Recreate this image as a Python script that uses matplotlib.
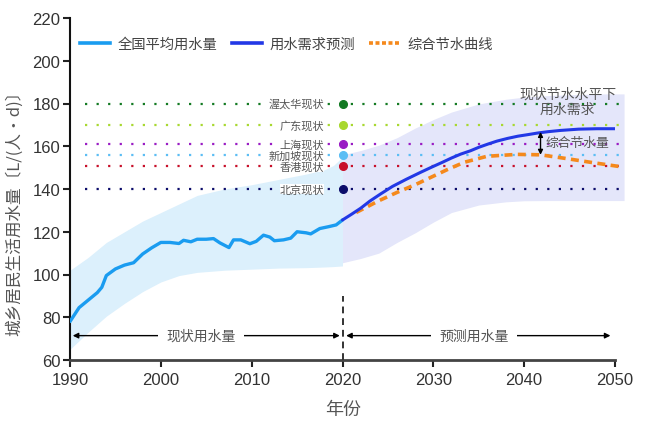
import matplotlib
matplotlib.use("Agg")
import matplotlib.pyplot as plt
from matplotlib.lines import Line2D
import numpy as np

CJK = ['Noto Sans CJK SC', 'DejaVu Sans']
NUM = ['Liberation Sans Narrow', 'Liberation Sans', 'DejaVu Sans']

# ---------------- data ----------------
hist_years = [1990, 1991, 1992, 1993, 1993.5, 1994, 1995, 1996, 1997, 1998, 1999, 2000,
              2001, 2002, 2002.5, 2003.3, 2004, 2005, 2005.8, 2006.5, 2007.5, 2008,
              2008.8, 2009.8, 2010.5, 2011.3, 2012, 2012.5, 2013.5, 2014.3, 2015,
              2016, 2016.5, 2017.5, 2018.5, 2019.3, 2020]
hist_vals = [78, 84.5, 88, 91.5, 94, 99.5, 102.6, 104.4, 105.5, 109.6, 112.5, 115,
             115, 114.5, 116, 115.3, 116.5, 116.5, 116.8, 114.8, 112.6, 116.2,
             116.2, 114.4, 115.5, 118.4, 117.5, 115.8, 116.2, 117, 120,
             119.5, 119, 121.5, 122.4, 123.2, 125.5]

hist_band_years = [1990, 1992, 1994, 1996, 1998, 2000, 2002, 2004, 2007, 2010,
                   2013, 2016, 2018, 2019, 2020]
hist_band_upper = [102, 108, 115, 120, 125, 129, 133, 137, 140, 142,
                   144.5, 147, 149, 151, 155]
hist_band_lower = [65, 73, 80.5, 86.5, 92, 96.5, 99.5, 101, 102, 102.5,
                   103, 103.2, 103.5, 103.7, 104]

fc_years = [2020, 2021, 2022, 2023, 2024.2, 2025.5, 2027, 2028.5, 2029.7, 2031, 2032,
            2033, 2034.1, 2035, 2036, 2037, 2038.2, 2039.3, 2040.5, 2041.5,
            2042.6, 2044, 2046, 2048, 2050]
fc_vals = [125.5, 128.2, 131, 134.3, 137.7, 141.2, 144.5, 147.6, 150, 152.5, 154.5,
           156.3, 157.9, 159.5, 161, 162.4, 163.7, 164.7, 165.5, 166.2,
           166.8, 167.4, 168, 168.2, 168.2]

save_years = [2021.5, 2024, 2026, 2028, 2029.7, 2031.5, 2033.4, 2035.9, 2039.2,
              2041.8, 2044.4, 2047.3, 2050.5]
save_vals = [129, 134.5, 138.4, 142, 145.4, 149, 152.5, 155.3, 156.2,
             156, 154.4, 152.5, 150.5]

fc_band_years = [2020, 2022, 2024, 2026, 2028, 2030, 2032, 2035, 2038, 2040,
                 2043, 2046, 2049, 2051]
fc_band_upper = [156, 158, 160.5, 164, 168.5, 172.5, 176, 179.8, 182, 183,
                 183.8, 184.2, 184.5, 184.5]
fc_band_lower = [105.5, 107.5, 110, 115, 119.5, 124.5, 129, 132.5, 134, 134.5,
                 134.6, 134.6, 134.6, 134.6]

ref_names = ['渥太华现状', '广东现状', '上海现状', '新加坡现状', '香港现状', '北京现状']
ref_values = [180, 170, 161, 155.8, 150.6, 140]
ref_colors = ['#137a23', '#a8d830', '#9a1cc4', '#5bbdf4', '#c8102a', '#0c0c6a']

legend_labels = ['全国平均用水量', '用水需求预测', '综合节水曲线']
x_ticks = [1990, 2000, 2010, 2020, 2030, 2040, 2050]
y_ticks = [60, 80, 100, 120, 140, 160, 180, 200, 220]

# ---------------- figure ----------------
fig = plt.figure(figsize=(6.6, 4.27), dpi=100)
ax = fig.add_axes([70/660, 66/427, 545/660, 342/427])

c_hist = '#1a9cf0'
c_fc = '#2238e6'
c_save = '#f5891c'

ax.fill_between(hist_band_years, hist_band_lower, hist_band_upper,
                color='#dcf0fc', lw=0, zorder=1)
ax.fill_between(fc_band_years, fc_band_lower, fc_band_upper,
                color='#e4e6fa', lw=0, zorder=1.1, clip_on=False)

# reference lines
for name, v, c in zip(ref_names, ref_values, ref_colors):
    ax.plot([1991.7, 2050.8], [v, v], color=c, lw=1.6,
            ls=(0, (1, 4.2)), zorder=2, clip_on=False)
    ax.plot([2020], [v], 'o', color=c, ms=5.5, zorder=6, clip_on=False)
    ax.text(2018.0, v, name, ha='right', va='center', fontsize=8.0,
            color='#555555', family=CJK, zorder=3,
            bbox=dict(facecolor='white', edgecolor='none', pad=0.0))

ax.plot(hist_years, hist_vals, color=c_hist, lw=2.4, zorder=5,
        solid_capstyle='round', solid_joinstyle='round')
ax.plot(save_years, save_vals, color=c_save, lw=2.6, ls=(0, (2.2, 1.5)),
        zorder=4, clip_on=False)
ax.plot(fc_years, fc_vals, color=c_fc, lw=2.2, zorder=5,
        solid_capstyle='round', solid_joinstyle='round')

# saving amount arrow
ax.annotate('', xy=(2041.8, 166.7), xytext=(2041.8, 156.0),
            arrowprops=dict(arrowstyle='<|-|>', color='black', lw=1.0,
                            mutation_scale=7, shrinkA=0, shrinkB=0), zorder=7)
ax.text(2042.4, 161.8, '综合节水量', ha='left', va='center', fontsize=9.2,
        color='#555555', family=CJK, zorder=7)
ax.text(2044.8, 181, '现状节水水平下\n用水需求', ha='center', va='center',
        fontsize=10, color='#555555', family=CJK, linespacing=1.15, zorder=7)

# bottom range arrows
ya = 71.4
ax.annotate('', xy=(1990.3, ya), xytext=(2019.7, ya),
            arrowprops=dict(arrowstyle='<|-|>', color='black', lw=1.0,
                            mutation_scale=8, shrinkA=0, shrinkB=0))
ax.text(2004.4, ya, '现状用水量', ha='center', va='center', fontsize=10,
        color='#555555', family=CJK,
        bbox=dict(facecolor='white', edgecolor='none', pad=6))
ax.annotate('', xy=(2020.4, ya), xytext=(2049.5, ya),
            arrowprops=dict(arrowstyle='<|-|>', color='black', lw=1.0,
                            mutation_scale=8, shrinkA=0, shrinkB=0))
ax.text(2034.5, ya, '预测用水量', ha='center', va='center', fontsize=10,
        color='#555555', family=CJK,
        bbox=dict(facecolor='white', edgecolor='none', pad=6))
ax.plot([2020, 2020], [60, 90], color='#333333', lw=1.4, ls=(0, (3.5, 2.5)),
        zorder=3)

# axes styling
ax.set_xlim(1990, 2050)
ax.set_ylim(60, 220)
ax.set_xticks(x_ticks)
ax.set_yticks(y_ticks)
for s in ['top', 'right']:
    ax.spines[s].set_visible(False)
ax.spines['left'].set_linewidth(1.5)
ax.spines['left'].set_color('#111111')
ax.spines['bottom'].set_linewidth(2.0)
ax.spines['bottom'].set_color('#444444')
ax.tick_params(axis='both', direction='out', length=5, width=1.5,
               colors='#222222', labelsize=12, labelcolor='#333333')
ax.tick_params(axis='x', pad=4)
ax.tick_params(axis='y', pad=2)
for lab in ax.get_xticklabels() + ax.get_yticklabels():
    lab.set_family(NUM)

fig.text(0.022, 0.51, '城乡居民生活用水量〔L/(人•d)〕', rotation=90,
         ha='center', va='center', fontsize=12, color='#555555', family=CJK)
fig.text(343/660, 1 - 410/427, '年份', ha='center', va='center',
         fontsize=13, color='#555555', family=CJK)

handles = [Line2D([], [], color=c_hist, lw=2.6),
           Line2D([], [], color=c_fc, lw=2.6),
           Line2D([], [], color=c_save, lw=2.6, ls=(0, (1.1, 0.7)))]
leg = ax.legend(handles, legend_labels, loc='center left',
                bbox_to_anchor=(0.018, 0.924), ncol=3, frameon=False,
                handlelength=2.1, handletextpad=0.55, columnspacing=1.0,
                borderpad=0, borderaxespad=0,
                prop={'family': CJK, 'size': 10.3})
for t in leg.get_texts():
    t.set_color('#444444')

fig.savefig('out.png', dpi=100)
